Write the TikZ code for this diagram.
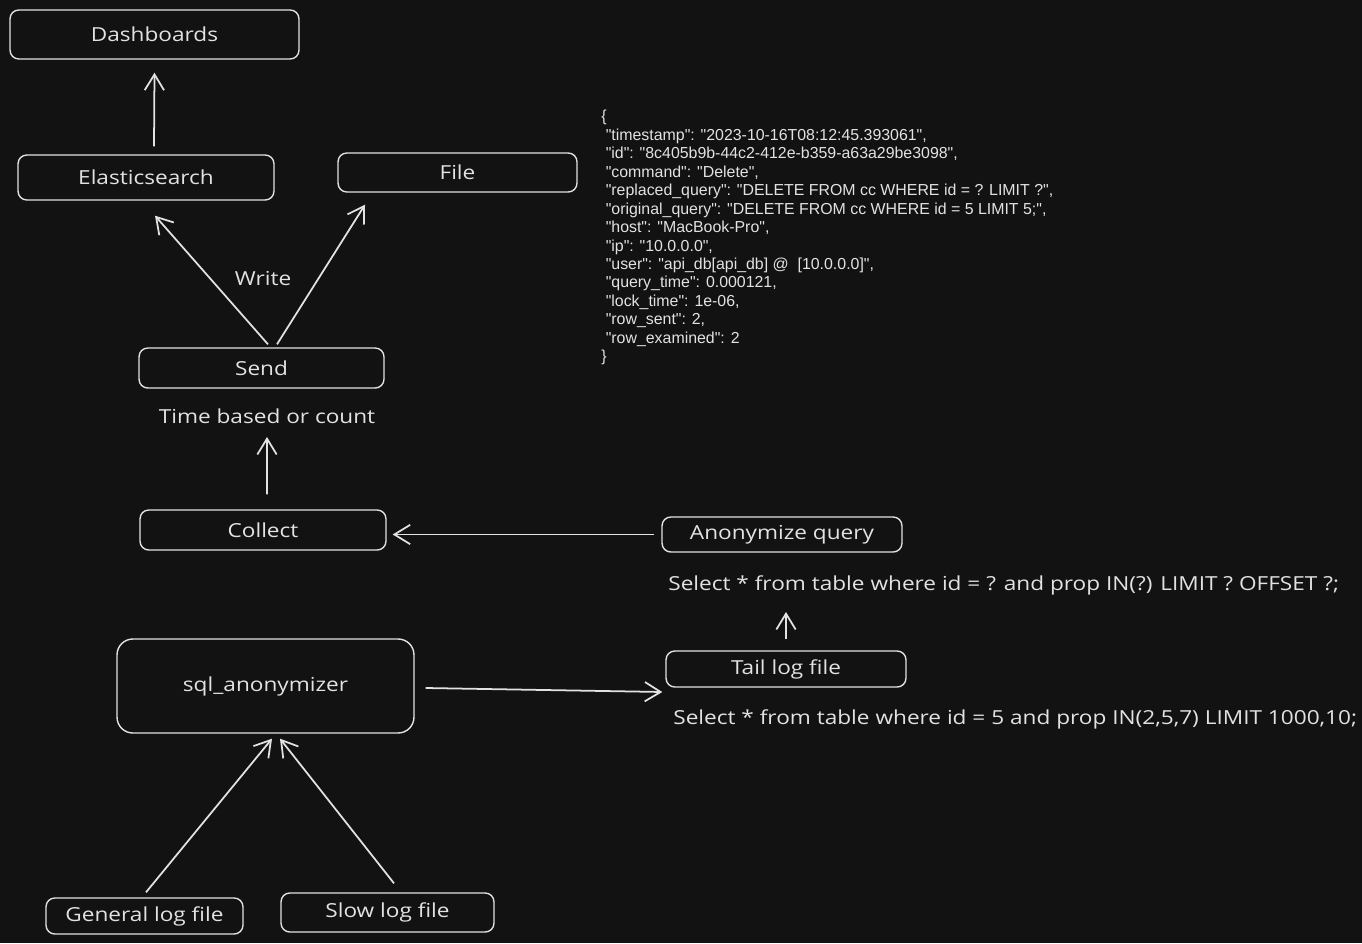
\documentclass[tikz,border=0pt]{standalone}
\usepackage{fontspec}
\setmainfont{Open Sans}[FakeStretch=1.17]
\newfontfamily\jsonfont{Liberation Sans}
\usetikzlibrary{positioning, arrows.meta, calc}
\definecolor{canvas}{HTML}{121212}
\definecolor{ink}{HTML}{E2E2E2}

\begin{document}
\begin{tikzpicture}[
                x=0.02cm, y=-0.02cm,
                node distance=0.25cm,
                box/.style={rectangle, draw=ink, line width=0.8pt, rounded corners=5pt,
                            align=center, text=ink, font=\fontsize{11}{13}\selectfont, inner sep=0pt},
                note/.style={text=ink, font=\fontsize{11}{13}\selectfont, inner sep=0pt},
                arrow/.style={-{Straight Barb[length=9pt, width=11pt]}, line width=1pt, draw=ink}
            ]
                \useasboundingbox[fill=canvas] (0,0) rectangle (1362,943);

                \node[box, minimum width=5.78cm, minimum height=0.98cm] (dash)    at (154.5,34.5) {Dashboards};
                \node[box, minimum width=5.12cm, minimum height=0.90cm] (elastic) at (146,177.5) {Elasticsearch};
                \node[box, minimum width=4.78cm, minimum height=0.78cm] (file)    at (457.5,172.5) {File};
                \node[box, minimum width=4.90cm, minimum height=0.80cm] (send)    at (261.5,368) {Send};
                \node[note] (timetext) at (267,416) {Time based or count};
                \node[box, minimum width=4.92cm, minimum height=0.80cm] (collect) at (263,530) {Collect};
                \node[box, minimum width=4.80cm, minimum height=0.70cm] (anon)    at (782,534.5) {Anonymize query};
                \node[note, anchor=west] (selanon) at (668,585) {Select * from table where id = ? and prop IN(?) LIMIT ? OFFSET ?;};
                \node[box, minimum width=4.80cm, minimum height=0.72cm] (tail)    at (786,669) {Tail log file};
                \node[note, anchor=west] (selraw) at (673,719) {Select * from table where id = 5 and prop IN(2,5,7) LIMIT 1000,10;};
                \node[box, minimum width=5.94cm, minimum height=1.88cm, rounded corners=9pt] (sqlanon) at (265.5,686) {sql\_anonymizer};
                \node[box, minimum width=3.94cm, minimum height=0.72cm] (general) at (144.5,916) {General log file};
                \node[box, minimum width=4.26cm, minimum height=0.78cm] (slow)    at (387.5,912.5) {Slow log file};
                \node[note] (write) at (263,278) {Write};

                % sample record
                \node[anchor=north west, align=left, inner sep=0pt, text=ink,
                      font=\jsonfont\fontsize{9.05}{10.5}\selectfont] (record) at (601,110) {%
                    \{\\
                    \ "timestamp": "2023-10-16T08:12:45.393061",\\
                    \ "id": "8c405b9b-44c2-412e-b359-a63a29be3098",\\
                    \ "command": "Delete",\\
                    \ "replaced\_query": "DELETE FROM cc WHERE id = ? LIMIT ?",\\
                    \ "original\_query": "DELETE FROM cc WHERE id = 5 LIMIT 5;",\\
                    \ "host": "MacBook-Pro",\\
                    \ "ip": "10.0.0.0",\\
                    \ "user": "api\_db[api\_db] @\ \ [10.0.0.0]",\\
                    \ "query\_time": 0.000121,\\
                    \ "lock\_time": 1e-06,\\
                    \ "row\_sent": 2,\\
                    \ "row\_examined": 2\\
                    \}};

                \draw[arrow] ([xshift=0.03cm, yshift=0.1cm]general.north) -- ([xshift=0.13cm, yshift=-0.1cm]sqlanon.south);
                \draw[arrow] ([xshift=0.13cm, yshift=0.18cm]slow.north)   -- ([xshift=0.29cm, yshift=-0.1cm]sqlanon.south);
                \draw[arrow] ([xshift=0.22cm, yshift=-0.04cm]sqlanon.east) -- ([xshift=-0.06cm, yshift=-0.46cm]tail.west);
                \draw[arrow] ([yshift=0.22cm]tail.north) -- ([yshift=-0.54cm]tail.north |- selanon.center);
                \draw[arrow] ([xshift=-0.14cm]anon.west) -- ([xshift=0.12cm]collect.east |- anon.west);
                \draw[arrow] ([xshift=0.08cm, yshift=0.3cm]collect.north) -- ([yshift=-0.42cm]timetext.center);
                \draw[arrow] ([xshift=0.13cm, yshift=0.06cm]send.north) -- ([xshift=0.18cm, yshift=-0.3cm]elastic.south);
                \draw[arrow] ([xshift=0.31cm, yshift=0.06cm]send.north) -- ([xshift=-1.85cm, yshift=-0.24cm]file.south);
                \draw[arrow] ([xshift=0.16cm, yshift=0.16cm]elastic.north) -- ([yshift=-0.26cm]dash.south);
            \end{tikzpicture}
\end{document}
